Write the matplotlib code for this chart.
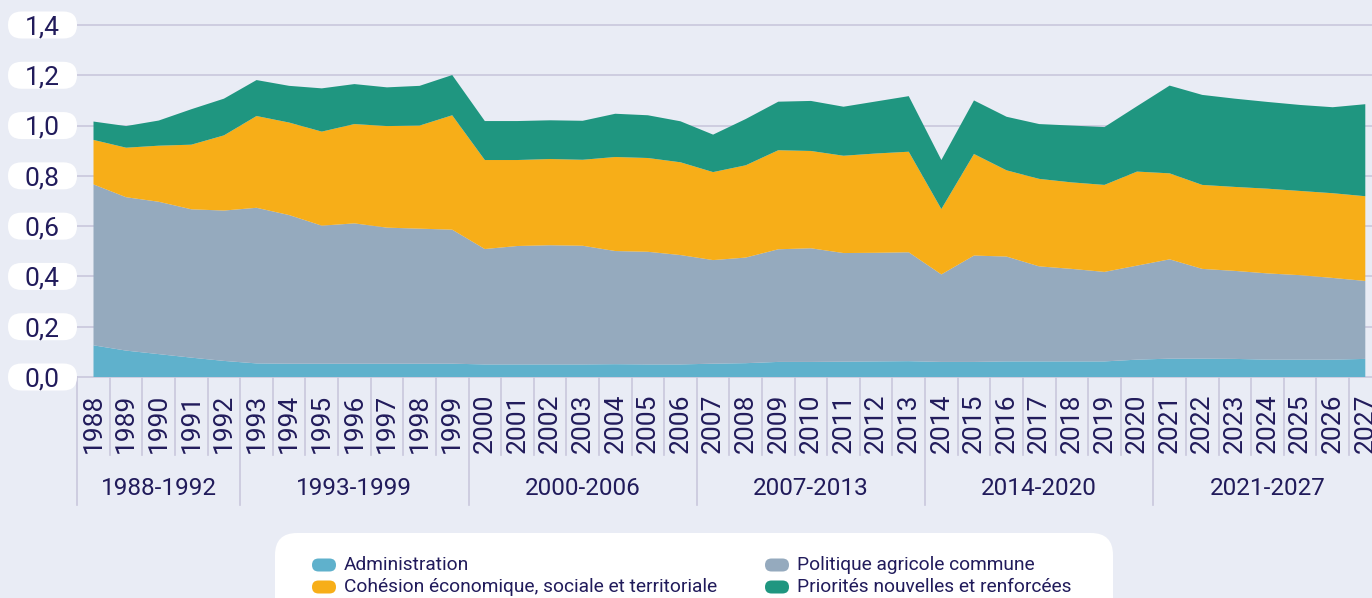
import numpy as np
import matplotlib.pyplot as plt
from matplotlib.patches import FancyBboxPatch
from matplotlib.transforms import IdentityTransform

# --- data (share of GNI, %) ---
years = list(range(1988, 2028))

administration = [0.126, 0.105, 0.091, 0.077, 0.064, 0.054, 0.053, 0.053, 0.053, 0.053,
                  0.053, 0.053, 0.050, 0.050, 0.050, 0.050, 0.051, 0.050, 0.050, 0.053,
                  0.055, 0.060, 0.060, 0.061, 0.062, 0.063, 0.060, 0.060, 0.062, 0.062,
                  0.062, 0.062, 0.069, 0.073, 0.073, 0.072, 0.069, 0.069, 0.069, 0.072]
pac = [0.640, 0.610, 0.606, 0.590, 0.598, 0.619, 0.591, 0.549, 0.558, 0.541,
       0.537, 0.533, 0.459, 0.471, 0.474, 0.472, 0.450, 0.448, 0.435, 0.412,
       0.420, 0.448, 0.452, 0.432, 0.432, 0.433, 0.348, 0.423, 0.417, 0.378,
       0.368, 0.356, 0.374, 0.395, 0.357, 0.350, 0.343, 0.336, 0.325, 0.310]
cohesion = [0.177, 0.197, 0.223, 0.257, 0.299, 0.365, 0.368, 0.374, 0.395, 0.404,
            0.410, 0.455, 0.354, 0.342, 0.343, 0.342, 0.374, 0.373, 0.369, 0.350,
            0.367, 0.394, 0.387, 0.387, 0.395, 0.400, 0.260, 0.404, 0.343, 0.348,
            0.344, 0.346, 0.374, 0.342, 0.334, 0.334, 0.337, 0.335, 0.337, 0.337]
priorites = [0.073, 0.086, 0.100, 0.141, 0.146, 0.143, 0.146, 0.172, 0.159, 0.154,
             0.158, 0.160, 0.155, 0.155, 0.154, 0.155, 0.172, 0.170, 0.163, 0.149,
             0.184, 0.193, 0.199, 0.195, 0.207, 0.221, 0.195, 0.213, 0.213, 0.218,
             0.226, 0.230, 0.260, 0.349, 0.358, 0.351, 0.345, 0.342, 0.342, 0.366]

series_names = ["Administration", "Politique agricole commune",
                "Cohésion économique, sociale et territoriale",
                "Priorités nouvelles et renforcées"]
colors = ["#5fb1cc", "#95aabe", "#f7ae18", "#1f9680"]

periods = ["1988-1992", "1993-1999", "2000-2006", "2007-2013", "2014-2020", "2021-2027"]
period_starts = [1988, 1993, 2000, 2007, 2014, 2021]
period_ends = [1992, 1999, 2006, 2013, 2020, 2027]

y_ticks = [0.0, 0.2, 0.4, 0.6, 0.8, 1.0, 1.2, 1.4]
y_tick_labels = ["0,0", "0,2", "0,4", "0,6", "0,8", "1,0", "1,2", "1,4"]

# --- style ---
BG = "#e9ecf5"
GRID = "#c9c7dc"
TXT = "#211b5b"
FONT = ["Roboto", "DejaVu Sans"]
plt.rcParams["font.family"] = FONT

W, H = 1372, 598
fig = plt.figure(figsize=(W / 100, H / 100), dpi=100, facecolor=BG)
# axes spans one half column beyond the right edge (2027 is cut like in the source)
left_px, right_px, top_px, bottom_px = 77.2, 1381.6, 25, 377
ax = fig.add_axes([left_px / W, 1 - bottom_px / H,
                   (right_px - left_px) / W, (bottom_px - top_px) / H])
ax.set_facecolor(BG)

x = np.arange(len(years))
ax.set_xlim(-0.5, len(years) - 0.5)
ax.set_ylim(0, 1.4)

# gridlines
ax.hlines(y_ticks, -0.5, len(years) - 0.5, color=GRID, lw=1.2, zorder=0, clip_on=False)

ax.stackplot(x, administration, pac, cohesion, priorites, colors=colors,
             linewidth=0, zorder=2)

for s in ax.spines.values():
    s.set_visible(False)

# x axis: years rotated
ax.set_xticks(x)
ax.set_xticklabels(years, rotation=90, fontsize=19, color=TXT)
ax.tick_params(axis="x", length=0, pad=12)
ax.set_yticks([])

# column separators below the axis
xt = ax.get_xaxis_transform()
sep_short = (bottom_px - 455) / (bottom_px - top_px)
sep_long = (bottom_px - 505) / (bottom_px - top_px)
starts_idx = [years.index(s) for s in period_starts]
for i in range(len(years) + 1):
    ylow = sep_long if (i in starts_idx or i == len(years)) else sep_short
    ax.plot([i - 0.5, i - 0.5], [0, ylow], transform=xt, color=GRID, lw=1.2,
            clip_on=False, zorder=1)

# period labels
label_y = (bottom_px - 488) / (bottom_px - top_px)
for name, a, b in zip(periods, period_starts, period_ends):
    cx = (years.index(a) + years.index(b)) / 2
    ax.text(cx, label_y, name, transform=xt, ha="center", va="center",
            fontsize=17.5, color=TXT)

# y tick labels in white pills
fig.canvas.draw()
ident = IdentityTransform()
for v, lab in zip(y_ticks, y_tick_labels):
    yc = ax.transData.transform((0, v))[1]
    fig.add_artist(FancyBboxPatch((8, yc - 13.5), 69, 27,
                                  boxstyle="round,pad=0,rounding_size=13.5",
                                  fc="white", ec="none", transform=ident))
    fig.text(42, yc - 9.3, lab, transform=ident, ha="center", va="baseline",
             fontsize=19, color=TXT)

# legend box (runs off the bottom edge)
fig.add_artist(FancyBboxPatch((275, -40), 838, 105,
                              boxstyle="round,pad=0,rounding_size=22",
                              fc="white", ec="none", transform=ident))
legend_cols = [(312, 344), (765, 797)]
legend_rows = [H - 565, H - 587]
order = [0, 2, 1, 3]  # column-major: admin, cohesion | pac, priorites
for k, idx in enumerate(order):
    px, tx = legend_cols[k // 2]
    py = legend_rows[k % 2]
    fig.add_artist(FancyBboxPatch((px, py - 6.5), 24, 13,
                                  boxstyle="round,pad=0,rounding_size=6.5",
                                  fc=colors[idx], ec="none", transform=ident))
    fig.text(tx, py, series_names[idx], transform=ident, ha="left", va="center",
             fontsize=13.8, color=TXT)

fig.savefig("out.png", dpi=100, facecolor=BG)
